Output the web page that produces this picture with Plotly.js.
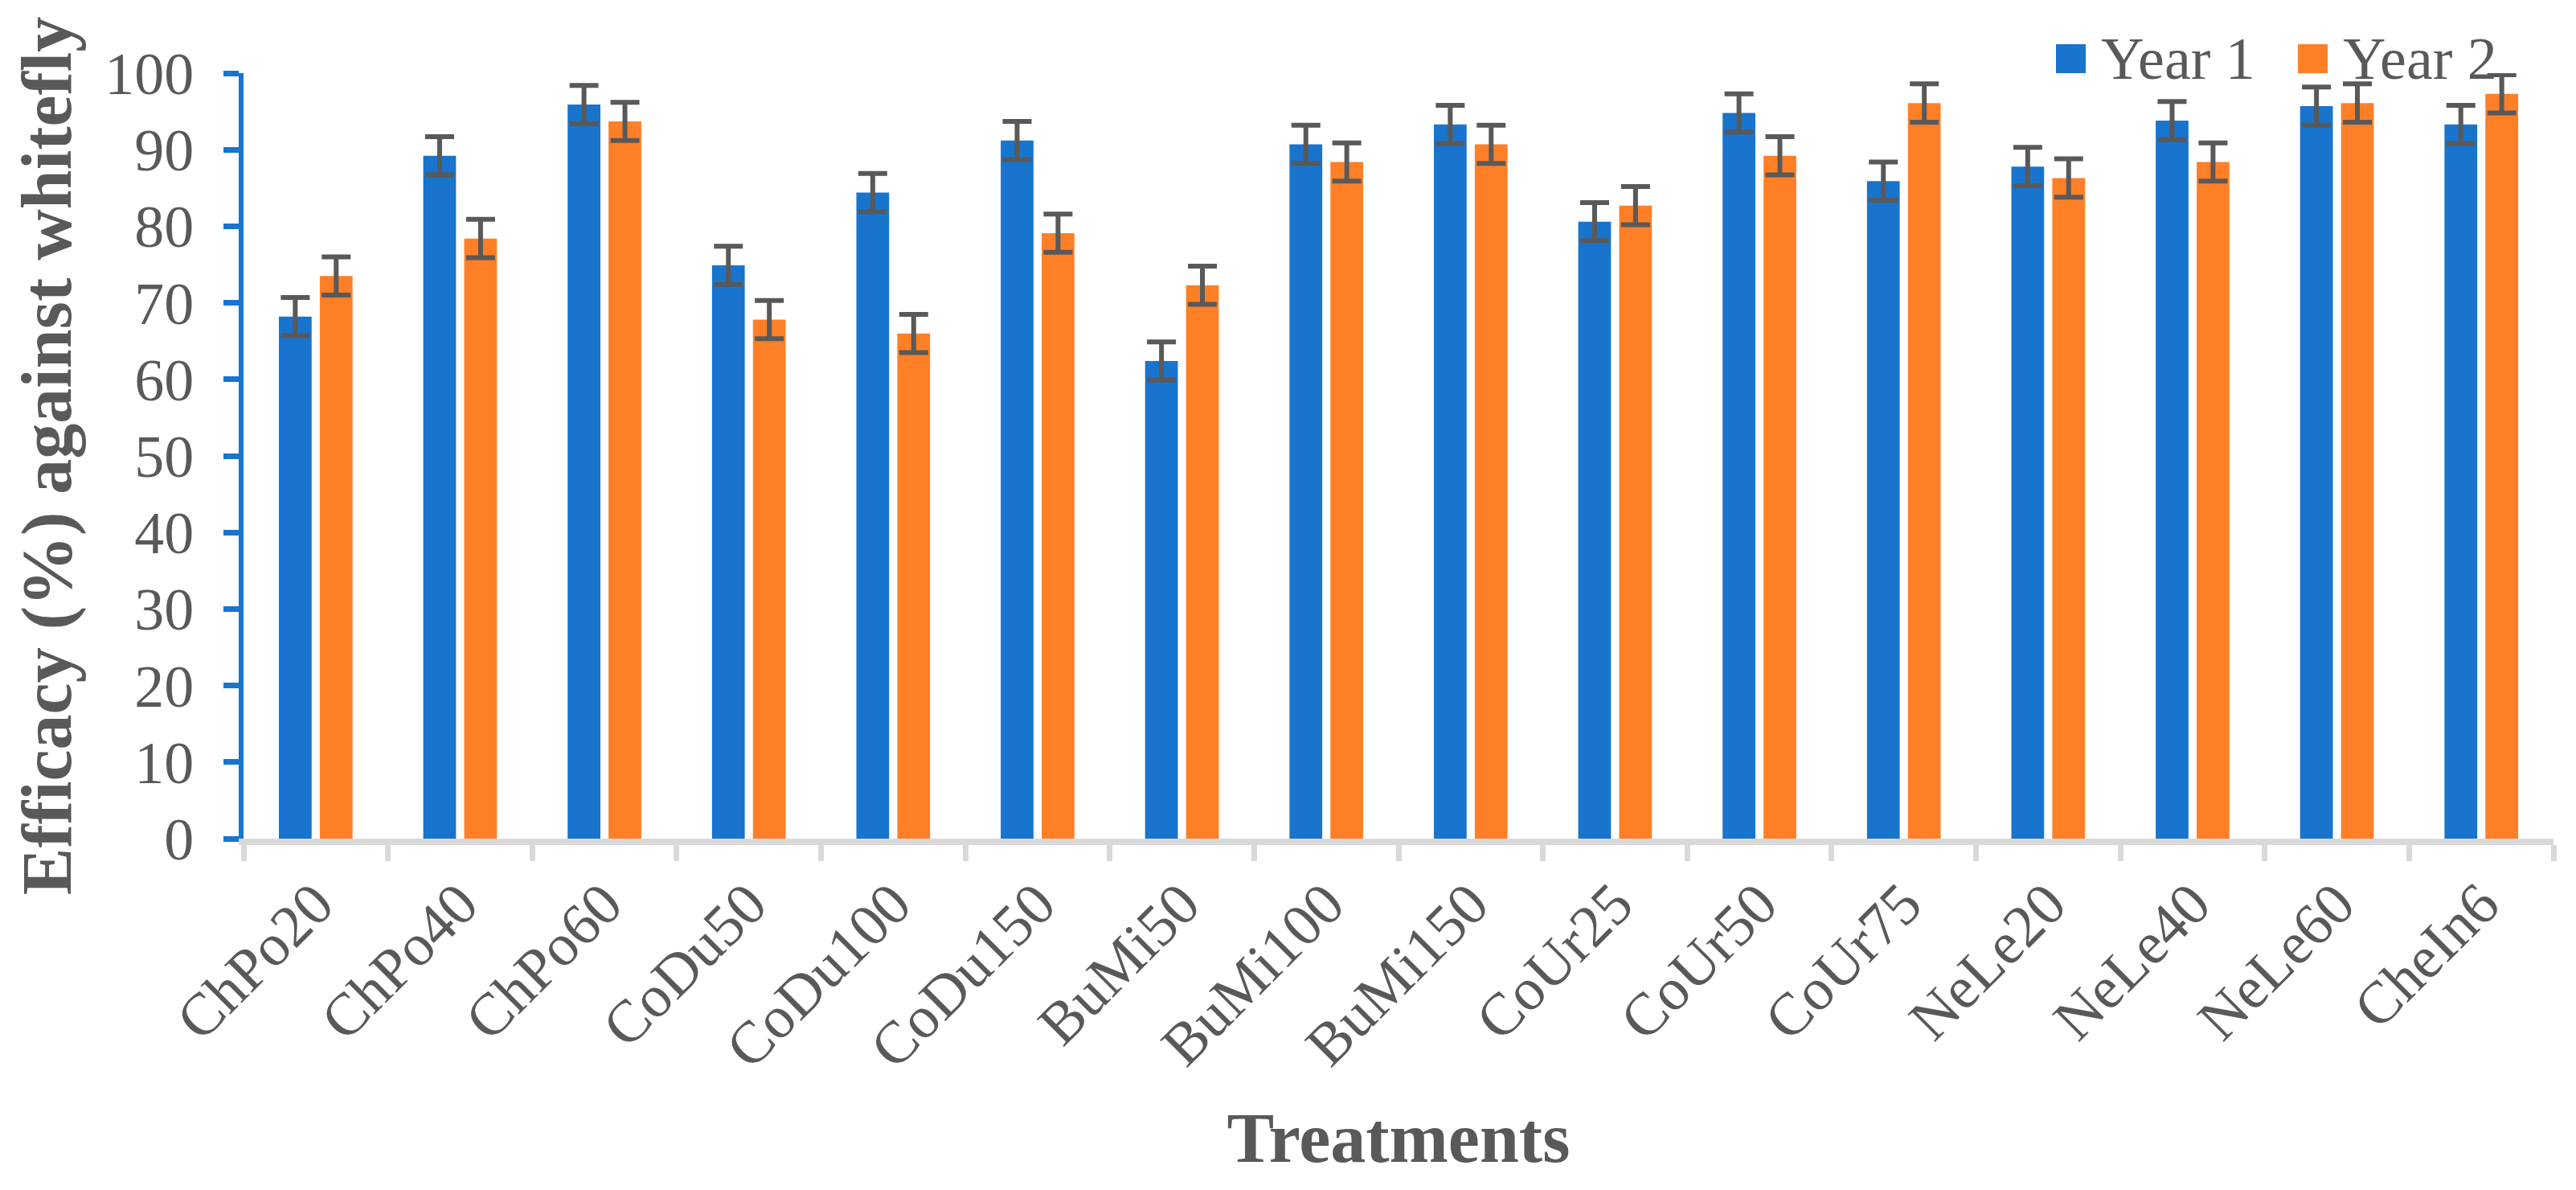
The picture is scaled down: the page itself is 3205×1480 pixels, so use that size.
<!DOCTYPE html>
<html>
<head>
<meta charset="utf-8">
<script src="https://cdn.plot.ly/plotly-3.0.1.min.js"></script>
<style>html,body{margin:0;padding:0;background:#fff;}#chart{width:3205px;height:1480px;}</style>
</head>
<body>
<div id="chart"></div>
<script>
const categories = ["ChPo20","ChPo40","ChPo60","CoDu50","CoDu100","CoDu150","BuMi50","BuMi100","BuMi150","CoUr25","CoUr50","CoUr75","NeLe20","NeLe40","NeLe60","CheIn6"];
const year1 = [68.2, 89.2, 95.9, 74.9, 84.4, 91.2, 62.4, 90.7, 93.3, 80.6, 94.8, 85.9, 87.8, 93.8, 95.7, 93.3];
const year2 = [73.5, 78.4, 93.7, 67.8, 66.0, 79.1, 72.3, 88.4, 90.7, 82.7, 89.2, 96.1, 86.3, 88.4, 96.1, 97.3];
const err1 = [2.5, 2.5, 2.5, 2.5, 2.5, 2.5, 2.5, 2.5, 2.5, 2.5, 2.5, 2.5, 2.5, 2.5, 2.5, 2.5];
const err2 = [2.5, 2.5, 2.5, 2.5, 2.5, 2.5, 2.5, 2.5, 2.5, 2.5, 2.5, 2.5, 2.5, 2.5, 2.5, 2.5];
const seriesNames = ["Year 1", "Year 2"];
const yTicks = [0, 10, 20, 30, 40, 50, 60, 70, 80, 90, 100];

const BLUE = "#1874CD", ORANGE = "#FF7F27", TEXT = "#595959", AXGREY = "#D9D9D9";
const FONT = "Liberation Serif, Times New Roman, serif";
const W = 3205, H = 1480;
const M = {l: 303, r: 28, t: 91, b: 437};
const PW = W - M.l - M.r, PH = H - M.t - M.b;
const px = x => (x - M.l) / PW;
const py = y => (H - M.b - y) / PH;

function errSpec(arr) {
  return {type: "data", array: arr, visible: true, color: TEXT, thickness: 6, width: 18};
}

const traces = [
  {type: "bar", name: seriesNames[0], x: categories, y: year1, marker: {color: BLUE}, error_y: errSpec(err1), showlegend: false, hoverinfo: "x+y"},
  {type: "bar", name: seriesNames[1], x: categories, y: year2, marker: {color: ORANGE}, error_y: errSpec(err2), showlegend: false, hoverinfo: "x+y"}
];

// legend drawn as shapes + text (larger swatches than Plotly's fixed legend symbols)
const legendItems = [
  {sx: 2558, tx: 2612, color: BLUE, label: seriesNames[0]},
  {sx: 2859, tx: 2913, color: ORANGE, label: seriesNames[1]}
];
const shapes = legendItems.map(it => ({
  type: "rect", xref: "paper", yref: "paper",
  x0: px(it.sx), x1: px(it.sx + 37), y0: py(91), y1: py(55),
  fillcolor: it.color, line: {width: 0}
}));
const annotations = legendItems.map(it => ({
  xref: "paper", yref: "paper", x: px(it.tx), y: py(73),
  xanchor: "left", yanchor: "middle", showarrow: false,
  text: it.label, font: {family: FONT, size: 74, color: TEXT}
}));

const layout = {
  width: W, height: H,
  margin: {l: M.l, r: M.r, t: M.t, b: M.b, pad: 0},
  paper_bgcolor: "#fff", plot_bgcolor: "#fff",
  font: {family: FONT, color: TEXT},
  barmode: "group", bargap: 0.433, bargroupgap: 0.2,
  showlegend: false,
  xaxis: {
    type: "category", automargin: false,
    tickson: "boundaries", ticks: "outside", ticklen: 20, tickwidth: 7, tickcolor: AXGREY,
    showline: true, linecolor: AXGREY, linewidth: 8,
    showgrid: false, zeroline: false,
    tickangle: -45,
    tickfont: {family: FONT, size: 74, color: TEXT},
    title: {text: "Treatments", standoff: 44, font: {family: FONT, size: 88, color: TEXT, weight: 700}}
  },
  yaxis: {
    range: [0, 100], tickvals: yTicks, automargin: false,
    ticks: "outside", ticklen: 19, tickwidth: 7, tickcolor: BLUE,
    showline: true, linecolor: BLUE, linewidth: 6,
    showgrid: false, zeroline: false,
    ticklabelstandoff: 22,
    tickfont: {family: FONT, size: 74, color: TEXT},
    title: {text: "Efficacy (%) against whitefly", standoff: 14, font: {family: FONT, size: 88, color: TEXT, weight: 700}}
  },
  shapes: shapes,
  annotations: annotations
};

Plotly.newPlot("chart", traces, layout, {displayModeBar: false, staticPlot: true});
</script>
</body>
</html>
